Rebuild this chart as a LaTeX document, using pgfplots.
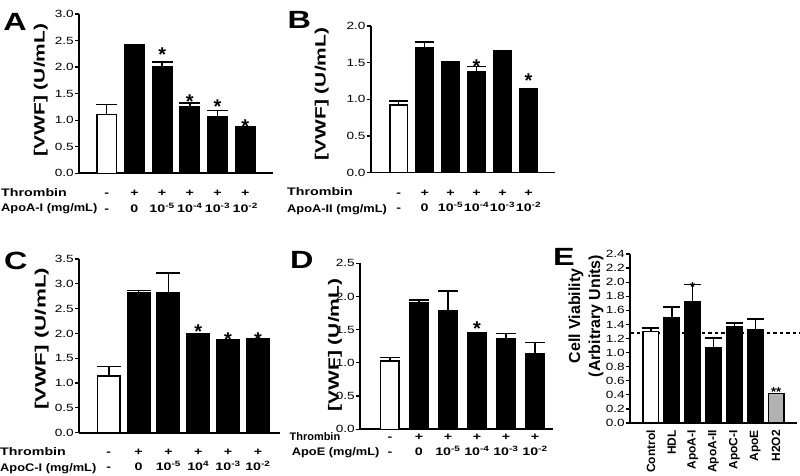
\documentclass[border=0pt]{standalone}
\usepackage{graphicx}
\usepackage{fontspec}
\setmainfont{Liberation Sans}
\usepackage{pgfplots}
\pgfplotsset{compat=1.18}

% text in the figure is stretched sideways
\newcommand{\W}[1]{\scalebox{1.3}[1]{#1}}
\newcommand{\TL}[2]{\W{\strut#1}\\\W{\strut#2}}
\newcommand{\E}[1]{10\textsuperscript{#1}}

\pgfplotsset{
  panel/.style={
    scale only axis, clip=false,
    axis x line*=bottom, axis y line*=left,
    axis line style={line width=1.6bp, black},
    ymin=0, xtick={0,...,5},
    tick align=outside,
    major tick length=4bp,
    x tick style={draw=none},
    y tick style={line width=1.2bp, black},
    yticklabel style={font=\fontsize{10.5}{12}\selectfont, inner sep=1bp},
    yticklabel={\W{\pgfmathprintnumber[fixed,fixed zerofill,precision=1,assume math mode=true]{\tick}}},
    xticklabel style={font=\fontsize{11}{15.5}\selectfont\bfseries, align=center, inner sep=0pt},
  },
  bars/.style={ybar, bar width=#1, draw=black, line width=1.5bp,
    error bars/y dir=plus, error bars/y explicit,
    error bars/error mark=|,
    error bars/error bar style={line width=1.5bp, black},
    error bars/error mark options={line width=1.5bp, black, mark size=#1/2+0.75bp}},
  stars/.style={draw=none, mark=none, nodes near coords, point meta=explicit symbolic,
    nodes near coords style={anchor=center, inner sep=0pt, yshift=-4.5bp,
      font=\fontsize{20}{20}\selectfont\bfseries}},
}
\tikzset{
  letter/.style={anchor=base west, inner sep=0pt, font=\fontsize{25}{25}\selectfont\bfseries},
  rowlab/.style={anchor=base west, inner sep=0pt, font=\fontsize{11}{13}\selectfont\bfseries},
  vwf/.style={rotate=90, inner sep=0pt, font=\fontsize{15}{17}\selectfont\bfseries},
}
\newcommand{\R}[1]{\scalebox{1.17}[1]{#1}}

\begin{document}
\begin{tikzpicture}
\path[use as bounding box] (0,0) rectangle (800bp,476bp);

% ---------- A
\begin{axis}[panel, at={(79bp,302.7bp)}, anchor=south west,
  width=194bp, height=159.3bp, xmin=-1, xmax=6, ymax=3,
  ytick={0,0.5,1,1.5,2,2.5,3},
  xticklabels={{\TL{-}{-}},{\TL{+}{0}},{\TL{+}{\E{-5}}},{\TL{+}{\E{-4}}},{\TL{+}{\E{-3}}},{\TL{+}{\E{-2}}}},
  xticklabel shift=8.5bp]
\addplot[bars=19.5bp, fill=white] coordinates {(0,1.11) +- (0,0.19)};
\addplot[bars=19.5bp, fill=black] coordinates {
  (1,2.42) +- (0,0) (2,2.01) +- (0,0.09) (3,1.25) +- (0,0.07)
  (4,1.07) +- (0,0.11) (5,0.87) +- (0,0)};
\addplot[stars] coordinates {(2,2.31)[*] (3,1.43)[*] (4,1.34)[*] (5,0.96)[*]};
\end{axis}

% ---------- B
\begin{axis}[panel, at={(370.7bp,303.3bp)}, anchor=south west,
  width=184.3bp, height=146.7bp, xmin=-1.08, xmax=6.02, ymax=2,
  ytick={0,0.5,1,1.5,2},
  xticklabels={{\TL{-}{-}},{\TL{+}{0}},{\TL{+}{\E{-5}}},{\TL{+}{\E{-4}}},{\TL{+}{\E{-3}}},{\TL{+}{\E{-2}}}},
  xticklabel shift=8.5bp]
\addplot[bars=17.5bp, fill=white] coordinates {(0,0.92) +- (0,0.06)};
\addplot[bars=17.5bp, fill=black] coordinates {
  (1,1.70) +- (0,0.08) (2,1.48) +- (0,0.03) (3,1.38) +- (0,0.07)
  (4,1.65) +- (0,0.01) (5,1.15) +- (0,0)};
\addplot[stars] coordinates {(3,1.51)[*] (5,1.31)[*]};
\end{axis}

% ---------- C
\begin{axis}[panel, at={(79bp,43.3bp)}, anchor=south west,
  width=201bp, height=173.7bp, xmin=-1, xmax=5.74, ymax=3.5,
  ytick={0,0.5,1,1.5,2,2.5,3,3.5},
  xticklabels={{\TL{-}{-}},{\TL{+}{0}},{\TL{+}{\E{-5}}},{\TL{+}{\E{4}}},{\TL{+}{\E{-3}}},{\TL{+}{\E{-2}}}},
  xticklabel shift=7.5bp]
\addplot[bars=22.5bp, fill=white] coordinates {(0,1.14) +- (0,0.19)};
\addplot[bars=22.5bp, fill=black] coordinates {
  (1,2.82) +- (0,0.05) (2,2.82) +- (0,0.40) (3,1.99) +- (0,0)
  (4,1.83) +- (0,0.04) (5,1.88) +- (0,0.01)};
\addplot[stars] coordinates {(3,2.12)[*] (4,1.97)[*] (5,1.97)[*]};
\end{axis}

% ---------- D
\begin{axis}[panel, at={(360bp,46.7bp)}, anchor=south west,
  width=193bp, height=166bp, xmin=-1.03, xmax=5.62, ymax=2.5,
  ytick={0,0.5,1,1.5,2,2.5},
  xticklabels={{\TL{-}{-}},{\TL{+}{0}},{\TL{+}{\E{-5}}},{\TL{+}{\E{-4}}},{\TL{+}{\E{-3}}},{\TL{+}{\E{-2}}}},
  xticklabel shift=-4bp]
\addplot[bars=18.5bp, fill=white] coordinates {(0,1.03) +- (0,0.05)};
\addplot[bars=18.5bp, fill=black] coordinates {
  (1,1.91) +- (0,0.04) (2,1.78) +- (0,0.30) (3,1.45) +- (0,0)
  (4,1.37) +- (0,0.07) (5,1.14) +- (0,0.17)};
\addplot[stars] coordinates {(3,1.59)[*]};
\end{axis}

% ---------- E
\begin{axis}[panel, at={(630bp,53bp)}, anchor=south west,
  width=167bp, height=169bp, xmin=-1, xmax=7, ymax=2.4,
  ytick={0,0.2,0.4,0.6,0.8,1.0,1.2,1.4,1.6,1.8,2.0,2.2,2.4},
  xtick={0,...,6},
  xticklabels={Control,HDL,ApoA-I,ApoA-II,ApoC-I,ApoE,H2O2},
  xticklabel style={rotate=90, anchor=east, font=\fontsize{12}{13}\selectfont\bfseries},
  xticklabel shift=3bp]
\addplot[black, line width=2.5bp, dash pattern=on 3.5bp off 3bp] coordinates {(-1,1.28) (7.15,1.28)};
\addplot[bars=15.5bp, fill=white] coordinates {(0,1.30) +- (0,0.05)};
\addplot[bars=15.5bp, fill=black] coordinates {
  (1,1.50) +- (0,0.15) (2,1.72) +- (0,0.25) (3,1.07) +- (0,0.14)
  (4,1.36) +- (0,0.06) (5,1.32) +- (0,0.16)};
\addplot[bars=15.5bp, fill=black!30] coordinates {(6,0.42) +- (0,0)};
\addplot[stars, nodes near coords style={yshift=-3bp, font=\fontsize{13}{13}\selectfont\bfseries}]
  coordinates {(2,2.04)[*] (6,0.55)[**]};
\end{axis}

% ---------- panel letters, row names, axis titles
\node[letter] at (3.3bp,445.3bp) {\W{A}};
\node[letter] at (287.3bp,447.7bp) {\W{B}};
\node[letter] at (4bp,206.7bp) {\W{C}};
\node[letter] at (290bp,207.7bp) {\W{D}};
\node[letter] at (553bp,210bp) {\W{E}};

\node[rowlab] at (1bp,279.3bp) {\W{Thrombin}};
\node[rowlab] at (1bp,264.3bp) {\R{ApoA-I (mg/mL)}};
\node[rowlab] at (287bp,280bp) {\W{Thrombin}};
\node[rowlab] at (287bp,263.3bp) {\R{ApoA-II (mg/mL)}};
\node[rowlab] at (0bp,21bp) {\W{Thrombin}};
\node[rowlab] at (0bp,5bp) {\R{ApoC-I (mg/mL)}};
\node[rowlab] at (289.5bp,35.5bp) {Thrombin};
\node[rowlab] at (291.7bp,21bp) {\R{ApoE (mg/mL)}};

\node[vwf] at (40.8bp,386bp) {\scalebox{1.4}[1]{[VWF] (U/mL)}};
\node[vwf] at (321.7bp,382bp) {\scalebox{1.4}[1]{[VWF] (U/mL)}};
\node[vwf] at (41.7bp,137.3bp) {\scalebox{1.5}[1]{[VWF] (U/mL)}};
\node[vwf] at (335bp,131bp) {\scalebox{1.4}[1]{[VWF] (U/mL)}};
\node[rotate=90, align=center, inner sep=0pt, font=\fontsize{16}{20}\selectfont\bfseries]
  at (586bp,160bp) {Cell Viability\\(Arbitrary Units)};
\end{tikzpicture}
\end{document}
